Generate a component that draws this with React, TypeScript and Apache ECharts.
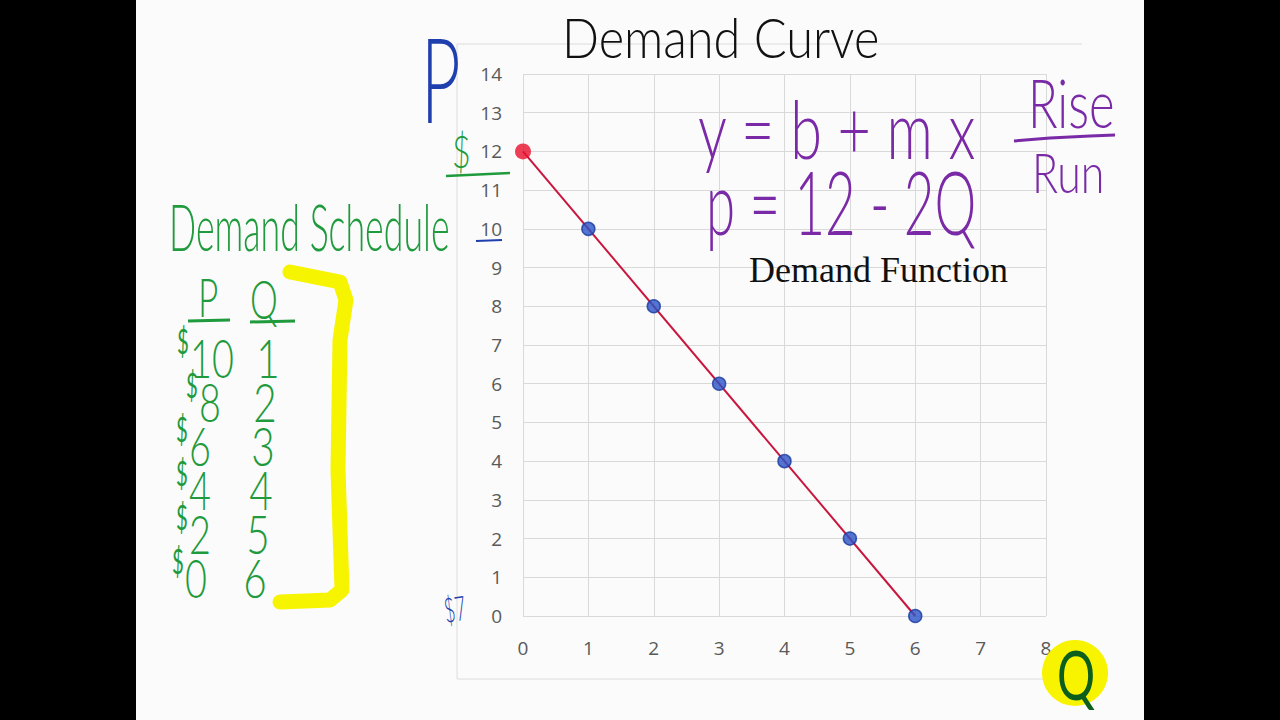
import React, { useEffect, useRef } from "react";
import * as echarts from "echarts";

// Demand schedule
const quantities = [1, 2, 3, 4, 5, 6];
const prices = [10, 8, 6, 4, 2, 0];
// Demand function p = 12 - 2Q, drawn between its intercepts
const demandLineQ = [0, 6];
const demandLineP = [12, 0];
const interceptQ = [0];
const interceptP = [12];
const xTicks = { min: 0, max: 8, interval: 1 };
const yTicks = { min: 0, max: 14, interval: 1 };
const scheduleP = ["10", "8", "6", "4", "2", "0"];
const scheduleQ = ["1", "2", "3", "4", "5", "6"];

const HAND = "Lato, 'Open Sans', sans-serif";

export default function App() {
  const ref = useRef<HTMLDivElement>(null);
  useEffect(() => {
    if (!ref.current) return;
    const chart = echarts.init(ref.current, null, { renderer: "svg" });
    const green = "#1f9a3c";
    const purple = "#7a2aa6";
    const blue = "#1f3fae";
    const txt = (text: string, x: number, y: number, size: number, fill: string, extra: any = {}) => ({
      type: "text",
      x,
      y,
      z: 10,
      scaleX: extra.sx || 1,
      rotation: extra.rot || 0,
      style: {
        text,
        fill,
        font: `${extra.weight || 300} ${size}px ${extra.family || HAND}`,
        lineHeight: size,
        align: extra.align || "left",
        verticalAlign: "middle",
      },
    });
    const pX = [190, 199, 189, 189, 189, 185];
    const qX = [268, 265, 263, 261, 258, 255];
    const tableRows: any[] = [];
    scheduleP.forEach((p, i) => {
      const y = 357 + i * 44;
      tableRows.push(txt("$", pX[i] - 13, y - 16, 34, green, { sx: 0.6, weight: 400 }));
      tableRows.push(txt(p, pX[i], y, 54, green, { sx: 0.7 }));
      tableRows.push(txt(scheduleQ[i], qX[i], y, 54, green, { align: "center", sx: 0.75 }));
    });
    chart.setOption({
      animation: false,
      backgroundColor: "#000000",
      grid: { left: 523, right: 234, top: 74, bottom: 104 },
      xAxis: {
        type: "value",
        min: xTicks.min,
        max: xTicks.max,
        interval: xTicks.interval,
        axisLine: { show: false },
        axisTick: { show: false },
        splitLine: { lineStyle: { color: "#d9d9d9", width: 1 } },
        axisLabel: { color: "#595959", fontSize: 19, fontFamily: "'Open Sans', sans-serif", margin: 22 },
      },
      yAxis: {
        type: "value",
        min: yTicks.min,
        max: yTicks.max,
        interval: yTicks.interval,
        axisLine: { show: false },
        axisTick: { show: false },
        splitLine: { lineStyle: { color: "#d9d9d9", width: 1 } },
        axisLabel: { color: "#595959", fontSize: 19, fontFamily: "'Open Sans', sans-serif", margin: 21 },
      },
      series: [
        {
          type: "line",
          data: demandLineQ.map((q, i) => [q, demandLineP[i]]),
          symbol: "none",
          lineStyle: { color: "#c8163e", width: 2 },
          z: 3,
        },
        {
          type: "scatter",
          data: quantities.map((q, i) => [q, prices[i]]),
          symbolSize: 13,
          itemStyle: { color: "#2a55c8", borderColor: "#1a3aa0", borderWidth: 1.5 },
          z: 4,
        },
        {
          type: "scatter",
          data: interceptQ.map((q, i) => [q, interceptP[i]]),
          symbolSize: 16,
          itemStyle: { color: "#e8102c" },
          z: 4,
        },
      ],
      graphic: [
        { type: "rect", z: -10, shape: { x: 136, y: 0, width: 1008, height: 720 }, style: { fill: "#fbfbfb" } },
        // chart frame
        { type: "line", z: -5, shape: { x1: 457, y1: 44, x2: 1082, y2: 44 }, style: { stroke: "#dcdcdc", lineWidth: 1 } },
        { type: "line", z: -5, shape: { x1: 457, y1: 44, x2: 457, y2: 679 }, style: { stroke: "#dcdcdc", lineWidth: 1 } },
        { type: "line", z: -5, shape: { x1: 457, y1: 679, x2: 1100, y2: 679 }, style: { stroke: "#dcdcdc", lineWidth: 1 } },
        // title
        txt("Demand Curve", 562, 36, 56, "#111111", { sx: 0.87 }),
        txt("P", 421, 78, 118, blue, { sx: 0.58 }),
        // equations
        txt("y = b + m x", 698, 128, 80, purple, { sx: 0.72 }),
        txt("p = 12 - 2Q", 706, 200, 88, purple, { sx: 0.6 }),
        txt("Rise", 1028, 102, 68, purple, { sx: 0.72 }),
        { type: "polyline", z: 10, shape: { points: [[1014, 141], [1050, 138], [1090, 136], [1115, 135]] }, style: { stroke: purple, lineWidth: 3, fill: "none" } },
        txt("Run", 1032, 172, 55, purple, { sx: 0.78 }),
        txt("Demand Function", 749, 270, 36, "#111111", { family: "'Liberation Serif', serif", weight: 400 }),
        // $ near 12 and underline
        txt("$", 452, 150, 46, green, { sx: 0.7 }),
        { type: "line", z: 10, shape: { x1: 446, y1: 176, x2: 510, y2: 173 }, style: { stroke: green, lineWidth: 2.5 } },
        { type: "line", z: 10, shape: { x1: 476, y1: 241, x2: 502, y2: 240 }, style: { stroke: blue, lineWidth: 2 } },
        txt("$7", 444, 610, 34, blue, { sx: 0.55, rot: 0.15 }),
        // demand schedule
        txt("Demand Schedule", 169, 226, 65, green, { sx: 0.55 }),
        txt("P", 198, 296, 54, green, { sx: 0.65 }),
        txt("Q", 250, 298, 54, green, { sx: 0.65 }),
        { type: "line", z: 10, shape: { x1: 188, y1: 321, x2: 230, y2: 320 }, style: { stroke: green, lineWidth: 3 } },
        { type: "line", z: 10, shape: { x1: 250, y1: 322, x2: 295, y2: 321 }, style: { stroke: green, lineWidth: 3 } },
        ...tableRows,
        // yellow bracket
        {
          type: "polyline",
          z: 8,
          shape: { points: [[290, 272], [340, 282], [346, 300], [340, 340], [338, 470], [342, 590], [330, 600], [280, 602]] },
          style: { stroke: "#f7f400", lineWidth: 15, fill: "none", lineJoin: "round", lineCap: "round" },
        },
        // Q highlighted
        { type: "circle", z: 8, shape: { cx: 1075, cy: 673, r: 33 }, style: { fill: "#f8f400" } },
        txt("Q", 1076, 674, 68, "#0b5e1c", { align: "center", weight: 400, sx: 0.7 }),
      ],
    });
    return () => chart.dispose();
  }, []);
  return <div ref={ref} style={{ position: "fixed", left: 0, top: 0, width: 1280, height: 720 }} />;
}
